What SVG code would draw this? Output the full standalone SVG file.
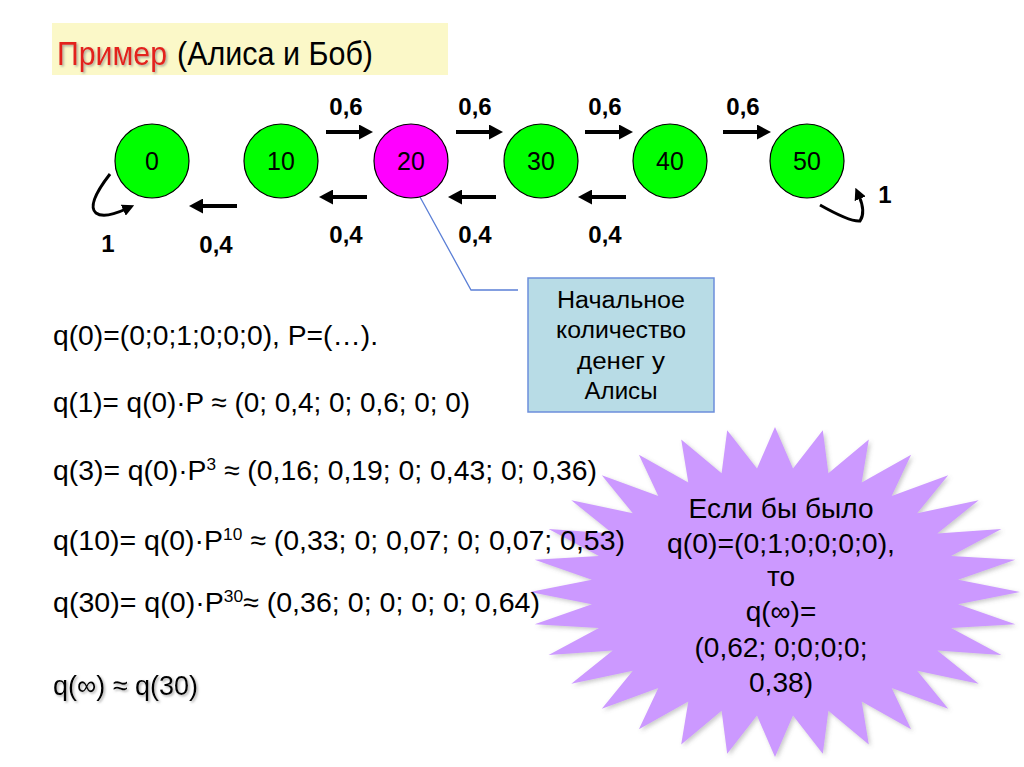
<svg xmlns="http://www.w3.org/2000/svg" width="1024" height="767" viewBox="0 0 1024 767">
<defs>
<marker id="ah" markerUnits="userSpaceOnUse" viewBox="0 0 14 15" refX="4" refY="7.5" markerWidth="14" markerHeight="15" orient="auto"><path d="M0,0 L14,7.5 L0,15 z" fill="#000"/></marker>
<marker id="ahs" markerUnits="userSpaceOnUse" viewBox="0 0 12 12" refX="3" refY="6" markerWidth="12" markerHeight="12" orient="auto"><path d="M0,0 L12,6 L0,12 z" fill="#000"/></marker>
<filter id="sh" x="-10%" y="-20%" width="130%" height="150%"><feDropShadow dx="1.5" dy="1.5" stdDeviation="1" flood-color="#777" flood-opacity="0.6"/></filter>
<filter id="starsh" x="-10%" y="-10%" width="120%" height="120%"><feDropShadow dx="2" dy="2" stdDeviation="2" flood-color="#666" flood-opacity="0.35"/></filter>
</defs>
<style>
text{font-family:"Liberation Sans",Arial,sans-serif;fill:#000}
.eq{font-size:28px}
.lbl{font-size:24px;font-weight:bold;text-anchor:middle}
.node circle{stroke:#000;stroke-width:1.2}
.node text{font-size:25px;text-anchor:middle}
.arr{stroke:#000;stroke-width:4;fill:none;marker-end:url(#ah)}
.loop{stroke:#000;stroke-width:3;fill:none;marker-end:url(#ahs)}
.star text{font-size:28px;text-anchor:middle}
.call text{font-size:23px;text-anchor:middle}
</style>
<rect width="1024" height="767" fill="#fff"/>

<g id="title">
<rect x="52" y="23" width="396" height="52" fill="#FBF8C8"/>
<text x="57" y="65" font-size="34" style="fill:#E3201B" filter="url(#sh)" textLength="110" lengthAdjust="spacingAndGlyphs">Пример</text>
<text x="177" y="65" font-size="34" textLength="196" lengthAdjust="spacingAndGlyphs">(Алиса и Боб)</text>
</g>

<g id="star" class="star">
<polygon filter="url(#starsh)" fill="#CC99FF" points="1020,592 958.1,579.8 1015.3,559.8 951.1,556 1001.4,528.9 937.3,533.5 978.7,500.3 917.2,513.3 948.2,475.3 891.7,496.1 911.1,454.8 861.7,482.6 868.8,439.6 828.4,473.3 822.8,430.2 793,468.6 775,427 757,468.6 727.2,430.2 721.6,473.3 681.2,439.6 688.3,482.6 638.9,454.8 658.3,496.1 601.8,475.3 632.8,513.3 571.3,500.3 612.7,533.5 548.6,528.9 598.9,556 534.7,559.8 591.9,579.8 530,592 591.9,604.2 534.7,624.2 598.9,628 548.6,655.1 612.7,650.5 571.3,683.7 632.8,670.7 601.8,708.7 658.3,687.9 638.9,729.2 688.3,701.4 681.2,744.4 721.6,710.7 727.2,753.8 757,715.4 775,757 793,715.4 822.8,753.8 828.4,710.7 868.8,744.4 861.7,701.4 911.1,729.2 891.7,687.9 948.2,708.7 917.2,670.7 978.7,683.7 937.3,650.5 1001.4,655.1 951.1,628 1015.3,624.2 958.1,604.2"/>
<text x="781" y="518" textLength="185" lengthAdjust="spacingAndGlyphs">Если бы было</text>
<text x="781" y="553" textLength="228" lengthAdjust="spacingAndGlyphs">q(0)=(0;1;0;0;0;0),</text>
<text x="781" y="586">то</text>
<text x="781" y="621">q(∞)=</text>
<text x="781" y="657" textLength="173" lengthAdjust="spacingAndGlyphs">(0,62; 0;0;0;0;</text>
<text x="781" y="692" textLength="64" lengthAdjust="spacingAndGlyphs">0,38)</text>
</g>

<g id="connectors">
<line class="arr" x1="326" y1="132" x2="363" y2="132"/>
<line class="arr" x1="456" y1="132" x2="493" y2="132"/>
<line class="arr" x1="585" y1="132" x2="623" y2="132"/>
<line class="arr" x1="723" y1="132" x2="761" y2="132"/>
<line class="arr" x1="237" y1="206" x2="199" y2="206"/>
<line class="arr" x1="367" y1="197" x2="329" y2="197"/>
<line class="arr" x1="496" y1="197" x2="458" y2="197"/>
<line class="arr" x1="626" y1="197" x2="588" y2="197"/>
<path class="loop" d="M110,174 Q86,205 96,213 Q104,219 126,209"/>
<path class="loop" d="M820,205 Q850,222 860,221 Q866,212 859,196"/>
<polyline points="420,197 471,290 518,290" fill="none" stroke="#5B7FD6" stroke-width="1.3"/>
</g>

<g id="labels">
<text class="lbl" x="346" y="115">0,6</text>
<text class="lbl" x="475" y="115">0,6</text>
<text class="lbl" x="605" y="115">0,6</text>
<text class="lbl" x="743" y="115">0,6</text>
<text class="lbl" x="216" y="253">0,4</text>
<text class="lbl" x="346" y="243">0,4</text>
<text class="lbl" x="475" y="243">0,4</text>
<text class="lbl" x="605" y="243">0,4</text>
<text class="lbl" x="108" y="252">1</text>
<text class="lbl" x="885" y="203">1</text>
</g>

<g id="n0" class="node"><circle cx="152" cy="161" r="37" fill="#00FF00"/><text x="152" y="170">0</text></g>
<g id="n10" class="node"><circle cx="281" cy="161" r="37" fill="#00FF00"/><text x="281" y="170">10</text></g>
<g id="n20" class="node"><circle cx="411" cy="161" r="37" fill="#FF00FF"/><text x="411" y="170">20</text></g>
<g id="n30" class="node"><circle cx="541" cy="161" r="37" fill="#00FF00"/><text x="541" y="170">30</text></g>
<g id="n40" class="node"><circle cx="670" cy="161" r="37" fill="#00FF00"/><text x="670" y="170">40</text></g>
<g id="n50" class="node"><circle cx="807" cy="161" r="37" fill="#00FF00"/><text x="807" y="170">50</text></g>

<g id="callout" class="call">
<rect x="528" y="278" width="186" height="134" fill="#B8DCE6" stroke="#6C8EDB" stroke-width="1.5"/>
<text x="621" y="308" textLength="128" lengthAdjust="spacingAndGlyphs">Начальное</text>
<text x="621" y="338" textLength="130" lengthAdjust="spacingAndGlyphs">количество</text>
<text x="621" y="369" textLength="88" lengthAdjust="spacingAndGlyphs">денег у</text>
<text x="621" y="399" textLength="73" lengthAdjust="spacingAndGlyphs">Алисы</text>
</g>

<g id="equations" class="eq">
<text class="eq" x="53" y="345" textLength="325" lengthAdjust="spacingAndGlyphs">q(0)=(0;0;1;0;0;0), P=(…).</text>
<text class="eq" x="53" y="412" textLength="417" lengthAdjust="spacingAndGlyphs">q(1)= q(0)·P ≈ (0; 0,4; 0; 0,6; 0; 0)</text>
<text class="eq" x="53" y="480" textLength="544" lengthAdjust="spacingAndGlyphs">q(3)= q(0)·P<tspan font-size="17" dy="-10">3</tspan><tspan dy="10"> ≈ (0,16; 0,19; 0; 0,43; 0; 0,36)</tspan></text>
<text class="eq" x="53" y="550" textLength="572" lengthAdjust="spacingAndGlyphs">q(10)= q(0)·P<tspan font-size="17" dy="-10">10</tspan><tspan dy="10"> ≈ (0,33; 0; 0,07; 0; 0,07; 0,53)</tspan></text>
<text class="eq" x="53" y="612" textLength="487" lengthAdjust="spacingAndGlyphs">q(30)= q(0)·P<tspan font-size="17" dy="-10">30</tspan><tspan dy="10">≈ (0,36; 0; 0; 0; 0; 0,64)</tspan></text>
<text class="eq" x="53" y="695" textLength="145" lengthAdjust="spacingAndGlyphs" filter="url(#sh)">q(∞) ≈ q(30)</text>
</g>
</svg>
